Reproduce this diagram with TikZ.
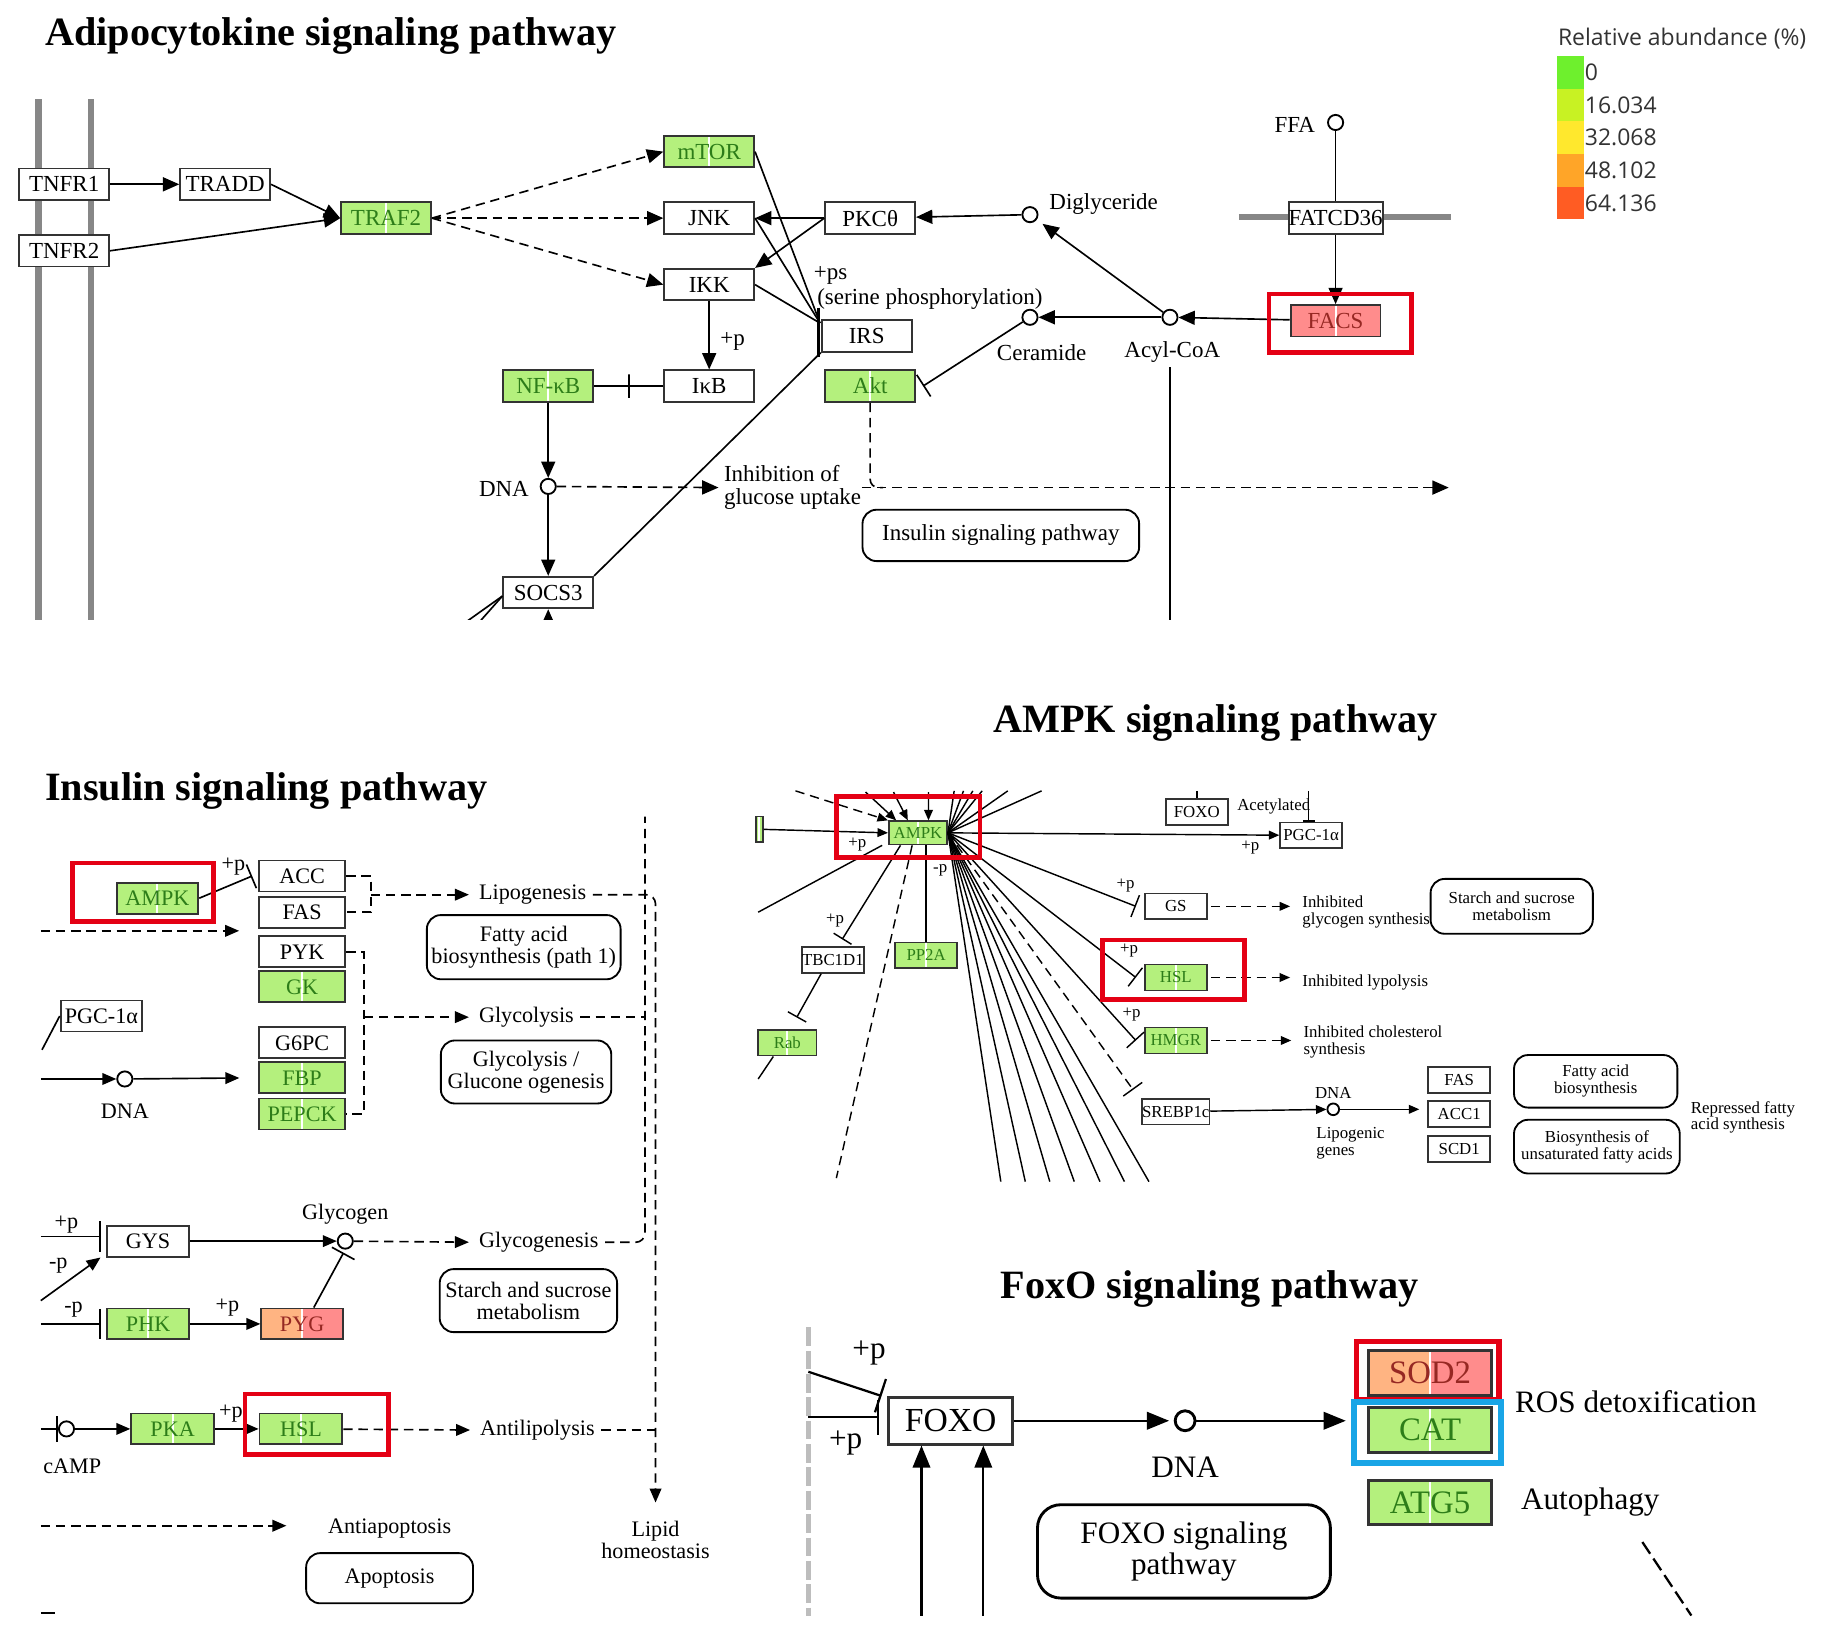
\documentclass[tikz,border=0pt]{standalone}
\usepackage{fontspec}
\setmainfont{Liberation Serif}
\newfontfamily\legendfont{Open Sans}
\usetikzlibrary{arrows.meta, positioning, calc}

\definecolor{kgreen}{RGB}{180,240,125}
\definecolor{kgtext}{RGB}{45,125,25}
\definecolor{kpink}{RGB}{255,140,140}
\definecolor{korange}{RGB}{255,180,130}
\definecolor{kptext}{RGB}{150,40,35}
\definecolor{hlred}{RGB}{228,0,20}
\definecolor{hlblue}{RGB}{25,165,230}
\definecolor{memgray}{RGB}{135,135,135}
\definecolor{lgA}{RGB}{110,240,45}
\definecolor{lgB}{RGB}{200,242,35}
\definecolor{lgC}{RGB}{255,232,45}
\definecolor{lgD}{RGB}{255,165,40}
\definecolor{lgE}{RGB}{255,92,35}
\newcommand{\kfs}[1]{\fontsize{#1}{#1}\selectfont}

\begin{document}
\begin{tikzpicture}[x=0.01cm, y=-0.01cm, line width=0.4pt,
    >={Triangle[length=0.14cm, width=0.12cm]},
    box/.style={draw=black!80, line width=0.45pt, fill=white, inner sep=0pt,
      minimum width=0.77cm, minimum height=0.27cm},
    gbox/.style={box, fill=kgreen, text=kgtext,
      path picture={\draw[white, line width=0.5pt] (path picture bounding box.north) -- (path picture bounding box.south);}},
    rbox/.style={box, fill=kpink, text=kptext,
      path picture={\draw[white, line width=0.5pt] (path picture bounding box.north) -- (path picture bounding box.south);}},
    obox/.style={box, text=kptext,
      path picture={\fill[korange] (path picture bounding box.south west) rectangle (path picture bounding box.north);
        \fill[kpink] (path picture bounding box.south) rectangle (path picture bounding box.north east);
        \draw[white, line width=0.5pt] (path picture bounding box.north) -- (path picture bounding box.south);}},
    cpd/.style={circle, draw, line width=0.45pt, fill=white, inner sep=0pt, minimum size=0.13cm},
    mapbox/.style={draw, line width=0.45pt, rounded corners=0.12cm, inner sep=0pt, align=center},
    lbl/.style={inner sep=0pt, align=center},
    kdash/.style={dash pattern=on 0.08cm off 0.05cm},
    barmark/.style={draw, minimum width=0pt, minimum height=0.2cm, inner sep=0pt, line width=0.5pt},
    hlbox/.style={draw=hlred, line width=1.1pt},
    ttl/.style={font=\bfseries\kfs{9.8}, inner sep=0pt}]

\useasboundingbox (0,0) rectangle (1568,1405);
\fill[white] (0,0) rectangle (1568,1405);

% ---------------- Adipocytokine ----------------
\node[ttl, anchor=west] (adiptitle) at (38,31) {Adipocytokine signaling pathway};
\begin{scope}[font=\kfs{5.6}]
  \clip (0,60) rectangle (1568,531);
  \draw[memgray, line width=1.5pt] (33,85) -- (33,540);
  \draw[memgray, line width=1.5pt] (78,85) -- (78,540);
  \draw[memgray, line width=1.5pt] (1062,186) -- (1244,186);

  \node[box] (tnfra) at (55,158) {TNFR1};
  \node[box] (tnfrb) at (55,215) {TNFR2};
  \node[box] (tradd) at (193,158) {TRADD};
  \node[gbox] (traf) at (331,187) {TRAF2};
  \node[gbox] (mtor) at (608,130) {mTOR};
  \node[box] (jnk) at (608,187) {JNK};
  \node[box] (ikk) at (608,244) {IKK};
  \node[box] (ikb) at (608,331) {IκB};
  \node[gbox] (nfkb) at (470,331) {NF-κB};
  \node[box] (pkc) at (746,187) {PKCθ};
  \node[box] (irs) at (743,288) {IRS};
  \node[gbox] (akt) at (746,331) {Akt};
  \node[box] (socs) at (470,508) {SOCS3};
  \node[box] (fat) at (1145,187) {FATCD36};
  \node[rbox] (facs) at (1145,275) {FACS};

  \node[cpd] (dag) at (883,184) {};
  \node[cpd] (cer) at (883,272) {};
  \node[cpd] (acoa) at (1003,272) {};
  \node[cpd] (ffa) at (1145,105) {};
  \node[cpd] (dnaa) at (470,417) {};
  \node[lbl, anchor=west] (daglbl) at (899,175) {Diglyceride};
  \node[lbl] (cerlbl) at (893,302) {Ceramide};
  \node[lbl] (acoalbl) at (1005,302) {Acyl-CoA};
  \node[lbl] (ffalbl) at (1110,107) {FFA};
  \node[lbl] (dnaalbl) at (432,419) {DNA};
  \node[lbl, anchor=west] (pslbl) at (697,236) {+ps};
  \node[lbl, anchor=west] (serlbl) at (700,256) {(serine phosphorylation)};
  \node[lbl] (ikkp) at (628,293) {+p};
  \node[lbl, anchor=west, align=left] (inh) at (620,418) {Inhibition of\\glucose uptake};
  \node[mapbox, minimum width=2.37cm, minimum height=0.44cm] (inspw) at (858,459) {Insulin signaling pathway};

  \draw[->] (tnfra) -- (tradd);
  \draw[->] (tradd.east) -- (traf.west);
  \draw[->] (tnfrb.east) -- (traf.west);
  \draw[->, kdash] (traf.east) -- (mtor.west);
  \draw[->, kdash] (traf.east) -- (jnk.west);
  \draw[->, kdash] (traf.east) -- (ikk.west);
  \draw[->] (pkc.west) -- (jnk.east);
  \draw[->] (pkc.west) -- (ikk.north east);
  \draw[->] (dag) -- (pkc);
  \draw (ffa) -- (fat);
  \draw[->] (fat) -- (facs);
  \draw[->] (facs) -- (acoa);
  \draw[->] (acoa) -- (cer);
  \draw[->, shorten >=0.06cm] (acoa) -- (dag);
  \coordinate (irsin) at (703,277);
  \draw (mtor.east) -- (irsin);
  \draw (jnk.east) -- (irsin);
  \draw (ikk.east) -- (irsin);
  \draw (socs.north east) -- (irs.south west);
  \draw[line width=0.5pt] ([xshift=-0.02cm, yshift=0.1cm]irs.north west) -- ([xshift=-0.02cm, yshift=-0.04cm]irs.south west);
  \draw[->] (ikk) -- (ikb);
  \draw (ikb.west) -- node[barmark] (ikbbar) {} (nfkb.east);
  \draw[-{Bar[width=0.22cm]}] (cer) -- ([xshift=0.06cm]akt.east);
  \draw[->] (nfkb) -- (dnaa);
  \draw[->] (dnaa) -- (socs);
  \draw[->, kdash, shorten >=0.04cm] (dnaa) -- (inh.west);
  \coordinate (glcend) at (1242,418);
  \coordinate (aktj) at (757,418);
  \draw[->, kdash] (inh.east) -- (glcend);
  \draw[kdash, rounded corners=0.07cm] (akt.south) |- (aktj);
  \coordinate (acoaend) at (1003,540);
  \draw (1003,315) -- (acoaend);
  \coordinate (sw1) at (390,540);
  \coordinate (sw2) at (405,540);
  \coordinate (sb) at (470,548);
  \draw ([yshift=-0.03cm]socs.west) -- (sw1);
  \draw ([yshift=-0.03cm]socs.west) -- (sw2);
  \draw[->] (sb) -- (socs.south);
  \draw[hlbox] (1088,252) rectangle (1210,302);
\end{scope}

% ---------------- legend ----------------
\begin{scope}[font=\legendfont\kfs{5.6}, text=black!80]
  \node[anchor=west, inner sep=0pt] (lgtitle) at (1335,33) {Relative abundance (\%)};
  \foreach \c/\v [count=\i] in {lgA/0, lgB/16.034, lgC/32.068, lgD/48.102, lgE/64.136} {
    \fill[\c] (1335,20+28*\i) rectangle (1358,48+28*\i);
    \node[anchor=west, inner sep=0pt] (lg\i) at (1358,34+28*\i) {\v};
  }
\end{scope}

% ---------------- Insulin ----------------
\node[ttl, anchor=west] (institle) at (38,678) {Insulin signaling pathway};
\begin{scope}[font=\kfs{5.4}, box/.append style={minimum width=0.74cm, minimum height=0.265cm},
    >={Triangle[length=0.12cm, width=0.1cm]}]
  \node[gbox, minimum width=0.70cm] (ampki) at (135,770) {AMPK};
  \node[box] (acc) at (259,751) {ACC};
  \node[box] (fasi) at (259,782) {FAS};
  \node[box] (pyk) at (259,816) {PYK};
  \node[gbox] (gk) at (259,846) {GK};
  \node[box] (gsixpc) at (259,894) {G6PC};
  \node[gbox] (fbp) at (259,924) {FBP};
  \node[gbox] (pepck) at (259,955) {PEPCK};
  \node[box, minimum width=0.70cm] (pgci) at (87,871) {PGC-1α};
  \node[cpd] (dnai) at (107,925) {};
  \node[lbl] (dnailbl) at (107,953) {DNA};
  \node[box, minimum width=0.70cm] (gys) at (127,1064) {GYS};
  \node[gbox, minimum width=0.70cm] (phk) at (127,1135) {PHK};
  \node[obox, minimum width=0.70cm] (pyg) at (259,1135) {PYG};
  \node[gbox, minimum width=0.71cm] (pka) at (148,1225) {PKA};
  \node[gbox, minimum width=0.71cm] (hsli) at (258,1225) {HSL};
  \node[cpd] (glycogen) at (296,1064) {};
  \node[lbl] (glycogenlbl) at (296,1041) {Glycogen};
  \node[cpd] (camp) at (57,1225) {};
  \node[lbl] (camplbl) at (62,1257) {cAMP};
  \node[lbl, anchor=west] (lipo) at (410,767) {Lipogenesis};
  \node[lbl, anchor=west] (glyco) at (410,872) {Glycolysis};
  \node[lbl, anchor=west] (glycogenesis) at (410,1065) {Glycogenesis};
  \node[lbl, anchor=west] (antilip) at (411,1226) {Antilipolysis};
  \node[lbl] (antiapop) at (334,1310) {Antiapoptosis};
  \node[lbl] (lipid) at (562,1320) {Lipid\\homeostasis};
  \node[mapbox, minimum width=1.66cm, minimum height=0.55cm] (fabi) at (449,812) {Fatty acid\\biosynthesis (path 1)};
  \node[mapbox, minimum width=1.46cm, minimum height=0.54cm] (glycmap) at (451,919) {Glycolysis /\\Glucone ogenesis};
  \node[mapbox, minimum width=1.52cm, minimum height=0.54cm] (starchi) at (453,1115) {Starch and sucrose\\metabolism};
  \node[mapbox, minimum width=1.43cm, minimum height=0.43cm] (apop) at (334,1353) {Apoptosis};
  \node[lbl] (plabA) at (200,743) {+p};
  \node[lbl] (plabB) at (57,1050) {+p};
  \node[lbl] (plabC) at (50,1085) {-p};
  \node[lbl] (plabD) at (63,1123) {-p};
  \node[lbl] (plabE) at (195,1121) {+p};
  \node[lbl] (plabF) at (198,1212) {+p};

  \draw[-{Bar[width=0.22cm]}] (ampki.east) -- ([xshift=-0.05cm]acc.west);
  \coordinate (lipbr) at (318,767);
  \draw[kdash] (acc.east) -| (lipbr) |- (fasi.east);
  \draw[->, kdash, shorten >=0.08cm] (lipbr) -- (lipo.west);
  \coordinate (topi) at (553,700);
  \draw[->, kdash, rounded corners=0.08cm, shorten <=0.05cm, shorten >=0.15cm] (lipo.east) -| (lipid.north);
  \draw[kdash, rounded corners=0.08cm, shorten <=0.05cm] (glycogenesis.east) -| (topi);
  \coordinate (glybr) at (312,872);
  \draw[kdash] (pyk.east) -| (glybr) |- (pepck.east);
  \draw[->, kdash, shorten >=0.08cm] (glybr) -- (glyco.west);
  \draw[kdash, shorten <=0.05cm] (glyco.east) -- (glyco.east -| topi);
  \draw[kdash, shorten <=0.05cm] (antilip.east) -- (antilip.east -| lipid.north);
  \coordinate (inl) at (35,798);
  \coordinate (inr) at (205,798);
  \draw[->, kdash] (inl) -- (inr);
  \coordinate (pgcl) at (36,900);
  \draw (pgci.west) -- (pgcl);
  \coordinate (dnal) at (35,925);
  \draw[->] (dnal) -- (dnai);
  \draw[->, shorten >=0.16cm] (dnai) -- (fbp.west);
  \coordinate (gysl) at (35,1060);
  \coordinate (gysm) at (35,1115);
  \draw[-{Bar[width=0.26cm]}, shorten >=0.05cm] (gysl) -- (gysl -| gys.west);
  \draw[->] (gysm) -- ([xshift=-0.05cm]gys.south west);
  \draw[->] (gys) -- (glycogen);
  \draw[->, kdash, shorten >=0.08cm] (glycogen) -- (glycogenesis.west);
  \draw[-{Bar[width=0.22cm]}, shorten >=0.03cm] ([xshift=0.1cm]pyg.north) -- (glycogen.south);
  \coordinate (phkl) at (35,1135);
  \draw[-{Bar[width=0.26cm]}, shorten >=0.05cm] (phkl) -- (phk.west);
  \draw[->] (phk) -- (pyg);
  \coordinate (campl) at (35,1225);
  \draw[-{Bar[width=0.22cm]}] (campl) -- (camp.west);
  \draw[->] (camp) -- (pka);
  \draw[->] (pka) -- (hsli);
  \draw[->, kdash, shorten >=0.08cm] (hsli) -- (antilip.west);
  \coordinate (apl) at (35,1308);
  \draw[->, kdash, shorten >=0.35cm] (apl) -- (apl -| antiapop.west);
  \coordinate (bml) at (35,1383);
  \draw (bml) -- ++(12,0);
  \draw[hlbox] (62,740) rectangle (183,790);
  \draw[hlbox] (210,1195) rectangle (333,1247);
\end{scope}

% ---------------- AMPK ----------------
\node[ttl] (ampktitle) at (1042,620) {AMPK signaling pathway};
\begin{scope}[font=\kfs{4.1}, line width=0.35pt,
    box/.append style={minimum width=0.53cm, minimum height=0.22cm, line width=0.4pt},
    >={Triangle[length=0.09cm, width=0.075cm]}]
  \node[gbox, minimum width=0.5cm, minimum height=0.2cm] (ampka) at (787,714) {AMPK};
  \node[gbox, minimum width=0.06cm] (frag) at (651,711) {};
  \node[box] (foxoa) at (1026,696) {FOXO};
  \node[box] (pgca) at (1124,716) {PGC-1α};
  \node[lbl] (acetyl) at (1092,691) {Acetylated};
  \node[box] (gs) at (1008,777) {GS};
  \node[gbox] (hsla) at (1008,838) {HSL};
  \node[gbox] (hmgr) at (1008,892) {HMGR};
  \node[box] (srebp) at (1008,953) {SREBP1c};
  \node[box] (tbc) at (714,823) {TBC1D1};
  \node[gbox, minimum width=0.5cm] (rab) at (675,894) {Rab};
  \node[gbox] (pp2a) at (794,819) {PP2A};
  \node[cpd, minimum size=0.1cm] (dnam) at (1143,951) {};
  \node[lbl] (dnamlbl) at (1143,937) {DNA};
  \node[lbl, anchor=north west, align=left] (lipgen) at (1128,966) {Lipogenic\\genes};
  \node[box] (fasa) at (1251,926) {FAS};
  \node[box] (acca) at (1251,955) {ACC1};
  \node[box] (scd) at (1251,985) {SCD1};
  \node[lbl, anchor=west, align=left] (inhgly) at (1116,782) {Inhibited\\glycogen synthesis};
  \node[lbl, anchor=west] (inhlyp) at (1116,842) {Inhibited lypolysis};
  \node[lbl, anchor=west, align=left] (inhcho) at (1117,893) {Inhibited cholesterol\\synthesis};
  \node[mapbox, minimum width=1.39cm, minimum height=0.47cm] (starcha) at (1296,777) {Starch and sucrose\\metabolism};
  \node[mapbox, minimum width=1.40cm, minimum height=0.45cm] (faba) at (1368,927) {Fatty acid\\biosynthesis};
  \node[mapbox, minimum width=1.42cm, minimum height=0.46cm] (ufa) at (1369,983) {Biosynthesis of\\unsaturated fatty acids};
  \node[lbl, anchor=west, align=left] (repr) at (1449,958) {Repressed fatty\\acid synthesis};
  \node[lbl] (apA) at (735,724) {+p};
  \node[lbl] (apB) at (1072,727) {+p};
  \node[lbl] (apC) at (965,759) {+p};
  \node[lbl] (apD) at (968,815) {+p};
  \node[lbl] (apE) at (970,870) {+p};
  \node[lbl] (apF) at (716,789) {+p};
  \node[lbl] (apG) at (806,746) {-p};

  \draw[->] (frag.east) -- (ampka.west);
  \draw[->] (ampka.east) -- (pgca.west);
  \foreach \tx [count=\k] in {818,826,834,842,864,893} {
    \coordinate (tf\k) at (\tx,678);
    \draw (ampka.east) -- (tf\k);
  }
  \foreach \bx [count=\k] in {858,879,900,921,943,964,985} {
    \coordinate (bf\k) at (\bx,1013);
    \draw (ampka.east) -- (bf\k);
  }
  \coordinate (ta) at (682,678);
  \coordinate (tb) at (742,679);
  \coordinate (tc) at (766,679);
  \coordinate (td) at (796,679);
  \draw[->, kdash] (ta) -- (ampka.north west);
  \draw[->] (tb) -- ([xshift=0.07cm]ampka.north west);
  \draw[->] (tc) -- ([xshift=0.17cm]ampka.north west);
  \draw[->] (td) -- ([xshift=0.09cm]ampka.north);
  \draw[-{Bar[width=0.2cm]}] (ampka.east) -- ([xshift=-0.07cm]gs.west);
  \draw[-{Bar[width=0.2cm]}] (ampka.east) -- ([xshift=-0.07cm]hsla.west);
  \draw[-{Bar[width=0.2cm]}] (ampka.east) -- ([xshift=-0.07cm]hmgr.west);
  \draw[kdash, -{Bar[width=0.2cm]}] (ampka.east) -- ([xshift=-0.07cm, yshift=0.07cm]srebp.north west);
  \draw[->, kdash, shorten <=0.03cm, shorten >=0.1cm] (gs.east) -- (gs -| inhgly.west);
  \draw[->, kdash, shorten <=0.03cm, shorten >=0.1cm] (hsla.east) -- (hsla -| inhlyp.west);
  \draw[->, kdash, shorten <=0.03cm, shorten >=0.1cm] (hmgr.east) -- (hmgr -| inhcho.west);
  \draw[->] (srebp) -- (dnam);
  \draw[->, shorten >=0.07cm] (dnam) -- (dnam -| acca.west);
  \coordinate (lw) at (650,782);
  \draw ([xshift=-0.05cm]ampka.south west) -- (lw);
  \draw[-{Bar[width=0.18cm]}] ([xshift=-0.15cm]ampka.south) -- ([xshift=0.08cm, yshift=0.06cm]tbc.north);
  \draw[-{Bar[width=0.18cm]}] ([xshift=-0.1cm]tbc.south) -- ([xshift=0.08cm, yshift=0.1cm]rab.north);
  \coordinate (rabl) at (650,925);
  \draw ([xshift=-0.12cm]rab.south) -- (rabl);
  \draw (pp2a.north) -- (pp2a.north |- ampka.south);
  \coordinate (dl) at (717,1010);
  \draw[kdash] ([xshift=-0.05cm]ampka.south) -- (dl);
  \coordinate (fxt) at (1026,678);
  \coordinate (pgt) at (1122,678);
  \draw (fxt) -- (foxoa.north);
  \draw[-{Bar[width=0.1cm]}] (pgt) -- (pgt |- pgca.north);
  \draw[hlbox] (717,683) rectangle (840,735);
  \draw[hlbox] (945,806) rectangle (1067,857);
\end{scope}

% ---------------- FoxO ----------------
\node[ttl] (foxotitle) at (1037,1105) {FoxO signaling pathway};
\begin{scope}[font=\kfs{7.6}, line width=0.55pt,
    box/.append style={minimum width=1.06cm, minimum height=0.38cm, line width=0.7pt},
    >={Triangle[length=0.19cm, width=0.15cm]}]
  \draw[memgray!55, line width=1.3pt, dash pattern=on 0.16cm off 0.04cm] (693,1138) -- (693,1385);
  \node[box, minimum height=0.4cm, font=\kfs{8.2}] (foxo) at (815,1218) {FOXO};
  \node[cpd, minimum size=0.17cm, line width=0.7pt] (dnaf) at (1016,1218) {};
  \node[lbl] (dnaflbl) at (1016,1258) {DNA};
  \node[obox, font=\kfs{8}] (sod) at (1226,1177) {SOD2};
  \node[gbox, font=\kfs{8}] (cat) at (1226,1226) {CAT};
  \node[gbox, font=\kfs{8}] (atg) at (1226,1288) {ATG5};
  \node[lbl, anchor=west] (ros) at (1298,1202) {ROS detoxification};
  \node[lbl, anchor=west] (autoph) at (1303,1288) {Autophagy};
  \node[mapbox, minimum width=2.51cm, minimum height=0.8cm, rounded corners=0.2cm, line width=0.7pt] (foxomap) at (1015,1330) {FOXO signaling\\pathway};
  \node[lbl] (fpa) at (745,1160) {+p};
  \node[lbl] (fpb) at (725,1237) {+p};

  \draw[->, shorten >=0.04cm] (foxo.east) -- (foxo.east -| dnaf.west);
  \draw[->, shorten >=0.18cm] (dnaf.east) -- (dnaf -| cat.west);
  \coordinate (fb1) at (790,1385);
  \coordinate (fb2) at (843,1385);
  \draw[->] (fb1) -- (fb1 |- foxo.south);
  \draw[->] (fb2) -- (fb2 |- foxo.south);
  \coordinate (fl1) at (693,1176);
  \coordinate (fl2) at (693,1215);
  \draw[-{Bar[width=0.3cm]}, shorten >=0.07cm] (fl2) -- (fl2 -| foxo.west);
  \draw[-{Bar[width=0.3cm]}] (fl1) -- ([xshift=-0.05cm]foxo.north west);
  \coordinate (dg1) at (1408,1322);
  \coordinate (dg2) at (1450,1385);
  \draw[dash pattern=on 0.12cm off 0.05cm] (dg1) -- (dg2);
  \draw[draw=hlred, line width=1.4pt] (1163,1150) rectangle (1285,1200);
  \draw[draw=hlblue, line width=1.4pt] (1161,1202) rectangle (1287,1254);
\end{scope}
\end{tikzpicture}
\end{document}
